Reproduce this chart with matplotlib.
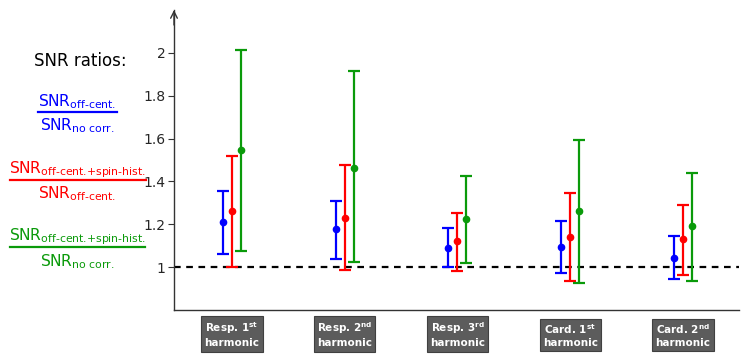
import matplotlib
matplotlib.use("Agg")
import matplotlib.pyplot as plt
from matplotlib.lines import Line2D
import numpy as np

categories = ["Resp. 1$^{\\mathbf{st}}$\nharmonic", "Resp. 2$^{\\mathbf{nd}}$\nharmonic",
              "Resp. 3$^{\\mathbf{rd}}$\nharmonic", "Card. 1$^{\\mathbf{st}}$\nharmonic",
              "Card. 2$^{\\mathbf{nd}}$\nharmonic"]

blue_mean = [1.21, 1.18, 1.09, 1.095, 1.045]
blue_low = [1.06, 1.04, 1.00, 0.975, 0.945]
blue_high = [1.355, 1.31, 1.185, 1.215, 1.145]

red_mean = [1.26, 1.23, 1.12, 1.14, 1.13]
red_low = [1.00, 0.985, 0.98, 0.935, 0.965]
red_high = [1.52, 1.475, 1.255, 1.345, 1.29]

green_mean = [1.545, 1.465, 1.225, 1.26, 1.19]
green_low = [1.075, 1.025, 1.02, 0.925, 0.935]
green_high = [2.015, 1.915, 1.425, 1.595, 1.44]

yticks = [1, 1.2, 1.4, 1.6, 1.8, 2]
ytick_labels = ["1", "1.2", "1.4", "1.6", "1.8", "2"]

BLUE, RED, GREEN = "#0000ff", "#ff0000", "#0a9a0a"

W, H = 755, 360
fig = plt.figure(figsize=(W / 100, H / 100), dpi=100)
ax = fig.add_axes([174 / W, 1 - 310 / H, (739 - 174) / W, (310 - 10) / H])

x = np.arange(1, 6)
off = 0.08
for dx, m, lo, hi, c in [(-off, blue_mean, blue_low, blue_high, BLUE),
                         (0, red_mean, red_low, red_high, RED),
                         (off, green_mean, green_low, green_high, GREEN)]:
    m = np.array(m); lo = np.array(lo); hi = np.array(hi)
    ax.errorbar(x + dx, m, yerr=[m - lo, hi - m], fmt='o', color=c, ms=4.5,
                elinewidth=1.6, capsize=4, capthick=1.6, zorder=3)

ax.axhline(1, color='black', lw=1.6, ls=(0, (3, 2.5)), zorder=2)

ax.set_xlim(0.486, 5.497)
ax.set_ylim(0.8, 2.2)
ax.set_yticks(yticks)
ax.set_yticklabels(ytick_labels, fontsize=10, color='#262626')
ax.set_xticks([])
for s in ['top', 'right']:
    ax.spines[s].set_visible(False)
for s in ['left', 'bottom']:
    ax.spines[s].set_color('#333333')
    ax.spines[s].set_linewidth(1.0)
ax.tick_params(axis='y', direction='out', length=4, color='#333333', pad=2)
ax.annotate('', xy=(0, 1.0), xytext=(0, 0.95), xycoords='axes fraction',
            arrowprops=dict(arrowstyle='->', color='#333333', lw=1.0,
                            mutation_scale=12, shrinkA=0, shrinkB=0))

for xi, lab in zip(x, categories):
    ax.text(xi, -0.082, lab, transform=ax.get_xaxis_transform(), ha='center', va='center',
            fontsize=7.5, fontweight='bold', color='white', linespacing=1.25,
            bbox=dict(boxstyle='square,pad=0.3', facecolor='#5c5c5c', edgecolor='#404040', lw=0.8))

def fx(px):
    return px / W

def fy(py):
    return 1 - py / H

fig.text(fx(80), fy(61), "SNR ratios:", fontsize=12, ha='center', va='center', color='black')

fracs = [
    (77, 106, 112, 38, 117, 130, r"SNR$_{\text{off-cent.}}$", r"SNR$_{\text{no corr.}}$", BLUE),
    (77, 173, 180, 10, 146, 198, r"SNR$_{\text{off-cent.+spin-hist.}}$", r"SNR$_{\text{off-cent.}}$", RED),
    (77, 240, 247, 10, 145, 266, r"SNR$_{\text{off-cent.+spin-hist.}}$", r"SNR$_{\text{no corr.}}$", GREEN),
]
for cx, ny, ly, x0, x1, dy, num, den, c in fracs:
    fig.text(fx(cx), fy(ny), num, fontsize=11.2, ha='center', va='baseline', color=c)
    fig.text(fx(cx), fy(dy), den, fontsize=11.2, ha='center', va='baseline', color=c)
    fig.add_artist(Line2D([fx(x0), fx(x1)], [fy(ly), fy(ly)], color=c, lw=1.6,
                          transform=fig.transFigure))

fig.savefig("out.png", dpi=100)
